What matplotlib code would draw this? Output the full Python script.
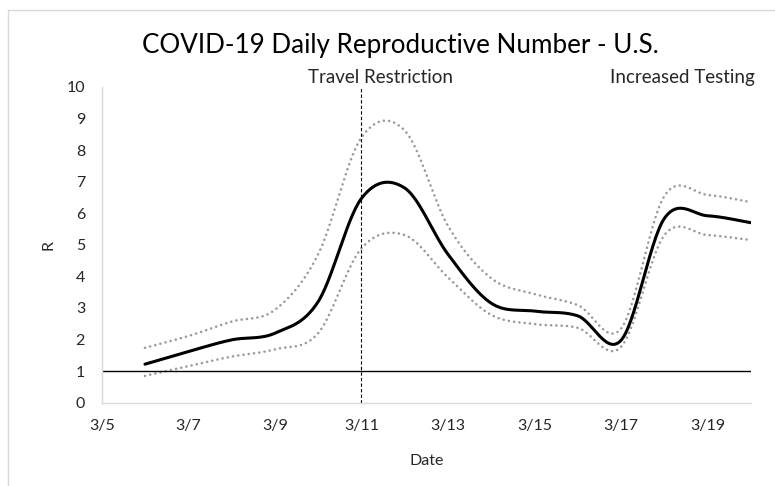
import numpy as np
import matplotlib
matplotlib.use("Agg")
import matplotlib.pyplot as plt
from matplotlib.patches import Rectangle

# ---------------- data ----------------
dates = ['3/6', '3/7', '3/8', '3/9', '3/10', '3/11', '3/12', '3/13',
         '3/14', '3/15', '3/16', '3/17', '3/18', '3/19', '3/20']
r_mean = [1.22, 1.62, 1.99, 2.20, 3.20, 6.47, 6.80, 4.70,
          3.15, 2.90, 2.75, 1.98, 5.84, 5.92, 5.70]
r_upper = [1.74, 2.11, 2.57, 2.94, 4.70, 8.40, 8.62, 5.60,
           3.94, 3.44, 3.09, 2.35, 6.55, 6.58, 6.35]
r_lower = [0.85, 1.16, 1.46, 1.69, 2.20, 4.89, 5.31, 3.97,
           2.78, 2.49, 2.37, 1.77, 5.31, 5.31, 5.15]
tick_labels = ['3/5', '3/7', '3/9', '3/11', '3/13', '3/15', '3/17', '3/19']
events = ['Travel Restriction', 'Increased Testing']
event_dates = ['3/11', '3/20']
title = 'COVID-19 Daily Reproductive Number - U.S.'


def day(s):
    return float(s.split('/')[1])


def smooth(x, y, n=30):
    """Catmull-Rom smoothing (like Excel's 'smoothed line')."""
    x = np.asarray(x, float)
    y = np.asarray(y, float)
    px = np.concatenate([[x[0]], x, [x[-1]]])
    py = np.concatenate([[y[0]], y, [y[-1]]])
    xs, ys = [], []
    t = np.linspace(0, 1, n, endpoint=False)
    for i in range(1, len(px) - 2):
        p0, p1, p2, p3 = py[i - 1], py[i], py[i + 1], py[i + 2]
        q0, q1, q2, q3 = px[i - 1], px[i], px[i + 1], px[i + 2]
        c1y = p1 + (p2 - p0) / 6
        c2y = p2 - (p3 - p1) / 6
        c1x = q1 + (q2 - q0) / 6
        c2x = q2 - (q3 - q1) / 6
        b0 = (1 - t) ** 3
        b1 = 3 * (1 - t) ** 2 * t
        b2 = 3 * (1 - t) * t ** 2
        b3 = t ** 3
        xs.append(b0 * q1 + b1 * c1x + b2 * c2x + b3 * q2)
        ys.append(b0 * p1 + b1 * c1y + b2 * c2y + b3 * p2)
    xs.append([x[-1]])
    ys.append([y[-1]])
    return np.concatenate(xs), np.concatenate(ys)


plt.rcParams['font.family'] = ['Lato', 'DejaVu Sans']

W, H = 775, 486
fig = plt.figure(figsize=(W / 100, H / 100), dpi=100)
fig.patch.set_facecolor('white')

# chart border
fig.add_artist(Rectangle((8 / W, -0.05), 1.2, (486 - 10) / H + 0.05,
                         transform=fig.transFigure, fill=False,
                         edgecolor='#D9D9D9', lw=1.0))

ax = fig.add_axes([101.7 / W, 83.3 / H, (751 - 101.7) / W, (402.7 - 87) / H])

x = [day(d) for d in dates]
txt = '#262626'

for series in (r_upper, r_lower):
    sx, sy = smooth(x, series)
    ax.plot(sx, sy, color='#9A9A9A', lw=1.9, linestyle=(0, (0.01, 2.0)),
            dash_capstyle='round', solid_capstyle='round')

mx, my = smooth(x, r_mean)
ax.plot(mx, my, color='black', lw=2.2, solid_capstyle='round', zorder=3)

ax.axhline(1, color='black', lw=1.0, zorder=2)
ax.axvline(day(event_dates[0]), color='black', lw=0.8,
           linestyle=(0, (3, 2)), zorder=2)

ax.set_xlim(5, 20)
ax.set_ylim(0, 10)
ax.set_xticks([day(t) for t in tick_labels])
ax.set_xticklabels(tick_labels)
ax.set_yticks(range(0, 11))
ax.tick_params(length=0, pad=12, labelsize=11.5, colors=txt)

for s in ('top', 'right'):
    ax.spines[s].set_visible(False)
for s in ('left', 'bottom'):
    ax.spines[s].set_color('#D9D9D9')
    ax.spines[s].set_linewidth(1.0)

ax.set_xlabel('Date', fontsize=11.5, color=txt, labelpad=15)
ax.set_ylabel('R', fontsize=11.5, color=txt, labelpad=8)

fig.text(400 / W, 1 - 53 / H, title, ha='center', va='baseline',
         fontsize=18.7, color='black')
fig.text(381 / W, 1 - 83 / H, events[0], ha='center', va='baseline',
         fontsize=13.5, color=txt)
fig.text(682 / W, 1 - 83 / H, events[1], ha='center', va='baseline',
         fontsize=13.5, color=txt)

fig.savefig('out.png', dpi=100)
